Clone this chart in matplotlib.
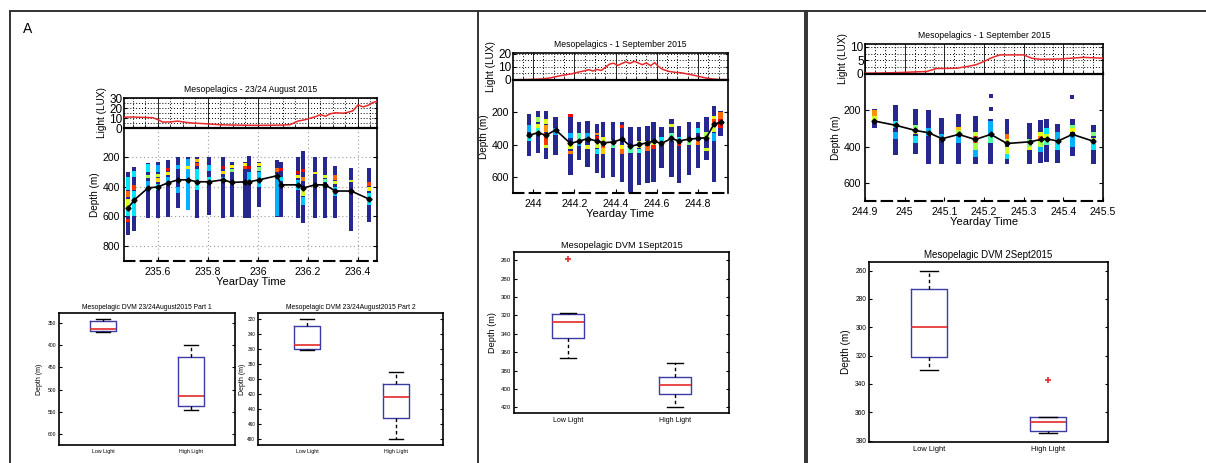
import numpy as np
import matplotlib
matplotlib.use("Agg")
import matplotlib.pyplot as plt
from matplotlib.lines import Line2D
from matplotlib.ticker import MultipleLocator

plt.rcParams['font.family'] = ['Liberation Sans', 'DejaVu Sans']

# ---------------- data ----------------
# Panel A: 23/24 August 2015
a_light_t = [235.465, 235.50, 235.54, 235.58, 235.60, 235.62, 235.65, 235.68, 235.71, 235.74,
             235.78, 235.82, 235.86, 235.90, 235.95, 236.00, 236.05, 236.10, 236.13, 236.16,
             236.19, 236.21, 236.23, 236.25, 236.27, 236.29, 236.31, 236.34, 236.36, 236.38,
             236.40, 236.42, 236.44, 236.46, 236.475]
a_light_lux = [11, 11.2, 10.8, 10.5, 8.5, 6.0, 6.2, 7.0, 5.8, 5.0,
               4.5, 3.8, 3.2, 3.0, 2.8, 2.7, 2.8, 3.0, 3.5, 7.0,
               8.5, 10.0, 11.5, 13.5, 12.0, 14.5, 15.5, 15.0, 16.0, 17.5,
               23.5, 21.5, 23.0, 26.0, 27.0]
a_col_t = [235.481, 235.505, 235.561, 235.601, 235.641, 235.681, 235.721, 235.757, 235.805,
           235.861, 235.897, 235.949, 235.965, 236.005, 236.077, 236.093, 236.161, 236.181,
           236.229, 236.269, 236.309, 236.373, 236.445]
a_col_top = [297, 262, 241, 234, 214, 200, 200, 200, 200, 200, 228, 234, 193, 228, 214, 234,
             200, 159, 200, 200, 255, 269, 269]
a_col_bot = [724, 697, 614, 614, 607, 545, 560, 614, 593, 614, 607, 614, 614, 538, 607, 607,
             614, 648, 614, 614, 614, 697, 641]
a_mean_depth = [545, 490, 407, 400, 372, 352, 352, 365, 365, 352, 370, 365, 365, 352, 324, 386,
                386, 407, 386, 386, 428, 428, 483]
a_spots = [
    [(330, 420, 0.35), (430, 470, 0.8), (480, 560, 0.62), (560, 600, 0.35), (615, 640, 0.88)],
    [(290, 330, 0.35), (390, 420, 0.85), (430, 600, 0.35)],
    [(245, 300, 0.35), (320, 340, 0.55), (360, 420, 0.3)],
    [(250, 300, 0.3), (310, 330, 0.6), (340, 365, 0.68), (380, 420, 0.35)],
    [(270, 295, 0.9), (300, 320, 0.65), (330, 380, 0.3)],
    [(250, 280, 0.3), (400, 440, 0.3)],
    [(210, 560, 0.3), (260, 280, 0.65)],
    [(210, 230, 0.7), (235, 260, 0.85), (280, 420, 0.35)],
    [(250, 290, 0.32), (330, 370, 0.35)],
    [(260, 280, 0.92), (290, 310, 0.68), (330, 360, 0.3)],
    [(250, 270, 0.65), (280, 300, 0.5)],
    [(240, 255, 0.65), (255, 275, 0.85)],
    [(260, 280, 0.92), (300, 360, 0.32)],
    [(235, 260, 0.65), (265, 290, 0.5), (300, 400, 0.32)],
    [(310, 600, 0.3), (270, 300, 0.8)],
    [(270, 295, 0.9), (330, 360, 0.35)],
    [(290, 315, 0.92), (320, 340, 0.65), (350, 420, 0.32)],
    [(280, 300, 0.9), (330, 360, 0.78), (400, 460, 0.6), (470, 520, 0.32)],
    [(300, 315, 0.65)],
    [(320, 340, 0.6), (345, 365, 0.45)],
    [(320, 350, 0.8), (360, 380, 0.62), (400, 460, 0.32)],
    [(350, 370, 0.6)],
    [(370, 395, 0.85), (400, 430, 0.65), (440, 520, 0.35)],
]

# Panel B: 1 September 2015
b_light_t = [243.90, 243.95, 244.00, 244.05, 244.09, 244.13, 244.16, 244.19, 244.22, 244.25,
             244.27, 244.29, 244.31, 244.33, 244.35, 244.37, 244.39, 244.41, 244.43, 244.45,
             244.47, 244.49, 244.51, 244.53, 244.55, 244.57, 244.59, 244.61, 244.63, 244.66,
             244.69, 244.72, 244.75, 244.78, 244.81, 244.84, 244.87, 244.90, 244.95]
b_light_lux = [0.2, 0.3, 0.5, 0.9, 1.8, 3.2, 4.0, 4.8, 6.0, 7.0,
               7.8, 6.8, 8.0, 7.2, 9.5, 12.0, 12.8, 11.0, 12.5, 13.8,
               12.6, 14.2, 13.0, 11.6, 13.0, 10.8, 13.2, 10.0, 8.0, 6.5,
               5.8, 5.5, 4.5, 3.6, 2.5, 1.5, 0.8, 0.4, 0.3]
b_col_t = [243.979, 244.024, 244.062, 244.109, 244.181, 244.223, 244.264, 244.310, 244.340,
           244.388, 244.432, 244.472, 244.514, 244.555, 244.585, 244.623, 244.671, 244.708,
           244.756, 244.800, 244.841, 244.878, 244.910]
b_col_top = [210, 189, 189, 230, 210, 262, 252, 273, 262, 262, 262, 294, 294, 283, 262, 294,
             241, 283, 262, 262, 230, 158, 189]
b_col_bot = [469, 451, 489, 463, 589, 494, 536, 577, 609, 598, 631, 694, 652, 641, 631, 545,
             598, 641, 589, 545, 494, 631, 347]
b_mean_depth = [343, 326, 343, 309, 393, 378, 364, 378, 389, 384, 366, 410, 399, 389, 378, 393,
                362, 378, 366, 362, 357, 273, 262]
b_spots = [
    [(280, 320, 0.3), (340, 380, 0.35)],
    [(230, 260, 0.55), (270, 300, 0.62), (300, 340, 0.4)],
    [(240, 270, 0.62), (280, 320, 0.75), (330, 400, 0.85), (400, 420, 0.6)],
    [(300, 340, 0.3)],
    [(210, 230, 0.9), (330, 360, 0.3), (400, 430, 0.62), (440, 460, 0.78)],
    [(330, 380, 0.45), (390, 410, 0.3)],
    [(330, 360, 0.3), (400, 430, 0.62)],
    [(330, 340, 0.75), (345, 365, 0.9), (380, 420, 0.6), (430, 460, 0.35)],
    [(350, 380, 0.62), (380, 420, 0.82), (420, 460, 0.7)],
    [(370, 420, 0.45)],
    [(280, 300, 0.88), (400, 430, 0.65), (430, 460, 0.8)],
    [(400, 450, 0.45)],
    [(380, 420, 0.6), (430, 450, 0.4)],
    [(380, 400, 0.62), (410, 440, 0.8)],
    [(380, 400, 0.62), (400, 430, 0.88)],
    [(350, 400, 0.35)],
    [(270, 290, 0.62), (330, 380, 0.45)],
    [(350, 380, 0.35), (390, 410, 0.88)],
    [(360, 400, 0.5)],
    [(300, 330, 0.35), (380, 400, 0.8)],
    [(320, 360, 0.55), (420, 440, 0.6)],
    [(220, 240, 0.62), (240, 280, 0.85), (290, 320, 0.6), (330, 380, 0.3)],
    [(200, 240, 0.8), (240, 300, 0.9)],
]

# Panel C: 2 September 2015
c_light_t = [244.90, 244.95, 245.00, 245.03, 245.055, 245.08, 245.13, 245.16, 245.18, 245.20,
             245.22, 245.24, 245.27, 245.30, 245.32, 245.34, 245.39, 245.45, 245.50]
c_light_lux = [0.3, 0.4, 0.6, 0.8, 0.9, 2.0, 2.1, 2.8, 3.4, 4.6,
               6.0, 7.0, 7.0, 7.0, 5.8, 5.4, 5.5, 6.1, 5.8]
c_col_t = [244.923, 244.978, 245.027, 245.061, 245.094, 245.136, 245.178, 245.217, 245.258,
           245.315, 245.343, 245.358, 245.386, 245.423, 245.475]
c_col_top = [194, 172, 191, 196, 241, 222, 231, 250, 250, 272, 255, 250, 278, 250, 283]
c_col_bot = [296, 444, 439, 494, 494, 494, 494, 494, 494, 494, 489, 485, 489, 454, 494]
c_mean_depth = [259, 283, 311, 324, 357, 333, 361, 333, 383, 374, 361, 357, 370, 333, 370]
c_spots = [
    [(200, 230, 0.75), (230, 260, 0.6)],
    [(260, 300, 0.35), (320, 360, 0.3)],
    [(280, 300, 0.5), (300, 330, 0.62), (340, 380, 0.35)],
    [(300, 340, 0.3)],
    [(330, 360, 0.3)],
    [(290, 310, 0.7), (310, 330, 0.55), (340, 380, 0.3)],
    [(320, 340, 0.6), (340, 380, 0.82), (380, 420, 0.55), (420, 460, 0.3)],
    [(260, 340, 0.3), (340, 380, 0.45)],
    [(330, 360, 0.8), (360, 390, 0.62), (400, 440, 0.6), (440, 470, 0.35)],
    [(360, 400, 0.5), (400, 420, 0.62)],
    [(320, 340, 0.62), (340, 370, 0.78), (370, 400, 0.55), (400, 430, 0.3)],
    [(300, 330, 0.35), (330, 360, 0.6), (360, 390, 0.45)],
    [(320, 360, 0.3), (360, 420, 0.35)],
    [(280, 300, 0.5), (300, 320, 0.65), (330, 400, 0.3)],
    [(320, 340, 0.5), (350, 380, 0.6), (380, 420, 0.35)],
]
c_dot_t = [245.217, 245.217, 245.423]
c_dot_depth = [120, 194, 126]

# Box plot summaries: [whisker low, q1, median, q3, whisker high]
box_a1_low = [341, 345, 363, 368, 370]
box_a1_high = [400, 427, 514, 538, 545]
box_a2_low = [320, 329, 355, 360, 361]
box_a2_high = [391, 407, 424, 452, 480]
box_b_low = [317, 318, 327, 345, 366]
box_b_low_out = [259]
box_b_high = [372, 387, 396, 405, 419]
box_c_low = [260, 273, 300, 321, 330]
box_c_high = [363.5, 363.5, 367, 373, 374.5]
box_c_high_out = [337.5]
box_labels = ['Low Light', 'High Light']

# ---------------- layout ----------------
W, H = 1206, 463
fig = plt.figure(figsize=(W / 100, H / 100), dpi=100)


def rect(x0, y0, x1, y1):
    return [x0 / W, 1 - y1 / H, (x1 - x0) / W, (y1 - y0) / H]


cmap = plt.get_cmap('jet')
BASE_COLOR = '#26278f'


def profile(lrect, drect, title, light_t, lux, lylim, lmajor, lticks,
            col_t, top, bot, spots, mean_d, width, xlim, xticks, xticklabels,
            dylim, yticks, xlabel, grid=False, xminor=0.05, extra=None):
    axl = fig.add_axes(rect(*lrect))
    axd = fig.add_axes(rect(*drect), sharex=axl)

    # light panel
    axl.plot(light_t, lux, color='#e8282a', lw=1.1, zorder=3)
    axl.set_ylim(*lylim)
    axl.set_yticks(lticks)
    axl.yaxis.set_minor_locator(MultipleLocator(lmajor / 2))
    axl.xaxis.set_minor_locator(MultipleLocator(xminor))
    axl.grid(True, which='minor', color='k', ls=(0, (1, 2)), lw=0.7)
    axl.grid(True, which='major', axis='y', color='k', ls=(0, (1, 2)), lw=0.7)
    axl.grid(True, which='major', axis='x', color='k', ls='-', lw=0.6)
    axl.tick_params(axis='x', labelbottom=False, direction='in', length=2, which='both')
    axl.tick_params(axis='y', direction='in', right=True, length=2, labelsize=8.5, pad=1,
                    which='both')
    axl.tick_params(axis='y', which='minor', length=0)
    axl.set_ylabel('Light (LUX)', fontsize=7.2, labelpad=2)
    axl.set_title(title, fontsize=6.2, pad=4)
    for s in axl.spines.values():
        s.set_linewidth(1.2)

    # depth panel: echo columns
    for x, t, b, sp in zip(col_t, top, bot, spots):
        axd.bar(x, b - t, bottom=t, width=width, color=BASE_COLOR, lw=0, zorder=2)
        for d0, d1, lev in sp:
            axd.bar(x, d1 - d0, bottom=d0, width=width, color=cmap(lev), lw=0, zorder=2)
    if extra is not None:
        axd.scatter(extra[0], extra[1], marker='s', s=8, color=BASE_COLOR, lw=0, zorder=2)
    axd.plot(col_t, mean_d, color='k', lw=1.2, marker='D', ms=2.6, zorder=4)
    axd.set_xlim(*xlim)
    axd.set_ylim(*dylim)
    axd.set_yticks(yticks)
    axd.set_xticks(xticks)
    axd.set_xticklabels(xticklabels)
    axd.tick_params(direction='in', right=True, length=3, labelsize=7.6, pad=3)
    axd.tick_params(axis='x', pad=4)
    axd.tick_params(axis='x', which='minor', length=0)
    axd.set_ylabel('Depth (m)', fontsize=7.2, labelpad=2)
    axd.set_xlabel(xlabel, fontsize=8, labelpad=0)
    if grid:
        axd.grid(True, which='major', color='#9a9a9a', ls=(0, (1, 2.5)), lw=0.8)
        axd.set_axisbelow(True)
    for s in axd.spines.values():
        s.set_linewidth(1.2)
    axd.spines['bottom'].set_linestyle((0, (5, 3)))
    axd.spines['bottom'].set_linewidth(1.5)
    axd.spines['top'].set_linewidth(1.6)
    return axl, axd


profile((124, 98, 377, 128), (124, 128, 377, 261), 'Mesopelagics - 23/24 August 2015',
        a_light_t, a_light_lux, (0, 30.5), 10, [0, 10, 20, 30],
        a_col_t, a_col_top, a_col_bot, a_spots, a_mean_depth, 0.018,
        (235.465, 236.476), [235.6, 235.8, 236.0, 236.2, 236.4],
        ['235.6', '235.8', '236', '236.2', '236.4'],
        (903, 0), [200, 400, 600, 800], 'YearDay Time', grid=True, xminor=0.05)

profile((513, 53, 728, 80), (513, 80, 728, 193), 'Mesopelagics - 1 September 2015',
        b_light_t, b_light_lux, (0, 20.5), 10, [0, 10, 20],
        b_col_t, b_col_top, b_col_bot, b_spots, b_mean_depth, 0.022,
        (243.902, 244.946), [244.0, 244.2, 244.4, 244.6, 244.8],
        ['244', '244.2', '244.4', '244.6', '244.8'],
        (700, 0), [200, 400, 600], 'Yearday Time', xminor=0.05)

profile((865, 44, 1103, 74), (865, 74, 1103, 201), 'Mesopelagics - 1 September 2015',
        c_light_t, c_light_lux, (0, 11), 5, [0, 5, 10],
        c_col_t, c_col_top, c_col_bot, c_spots, c_mean_depth, 0.0125,
        (244.9, 245.5), [244.9, 245.0, 245.1, 245.2, 245.3, 245.4, 245.5],
        ['244.9', '245', '245.1', '245.2', '245.3', '245.4', '245.5'],
        (700, 0), [200, 400, 600], 'Yearday Time', xminor=0.025,
        extra=(c_dot_t, c_dot_depth))


def boxpanel(r, low, high, low_out, high_out, ylim, yticks, title, fs_title, fs_tick,
             fs_xt, fs_lab, xlim=(0.5, 2.5), lpad=3):
    ax = fig.add_axes(rect(*r))
    stats = []
    for vals, fl, lab in ((low, low_out, box_labels[0]), (high, high_out, box_labels[1])):
        stats.append(dict(whislo=vals[0], q1=vals[1], med=vals[2], q3=vals[3],
                          whishi=vals[4], fliers=fl, label=lab))
    ax.bxp(stats, positions=[1, 2], widths=0.3, capwidths=0.15, showfliers=True,
           boxprops=dict(color='#3c3ca8', lw=1.0),
           medianprops=dict(color='#e42a2a', lw=1.2),
           whiskerprops=dict(color='k', ls=(0, (2.5, 2)), lw=1.0),
           capprops=dict(color='k', lw=1.0),
           flierprops=dict(marker='+', markeredgecolor='#e42a2a', markersize=4,
                           markeredgewidth=1.2))
    ax.set_xlim(*xlim)
    ax.set_ylim(*ylim)
    ax.set_yticks(yticks)
    ax.tick_params(axis='y', direction='in', right=True, length=2.5, labelsize=fs_tick, pad=2)
    ax.tick_params(axis='x', length=0, labelsize=fs_xt, pad=3)
    ax.set_ylabel('Depth (m)', fontsize=fs_lab, labelpad=lpad)
    ax.set_title(title, fontsize=fs_title, pad=3)
    for s in ax.spines.values():
        s.set_linewidth(1.2)
    return ax


boxpanel((59, 313, 235, 445), box_a1_low, box_a1_high, [], [], (625, 327),
         [350, 400, 450, 500, 550, 600], 'Mesopelagic DVM 23/24August2015 Part 1',
         4.9, 3.6, 3.8, 5.0)
boxpanel((258, 313, 443, 445), box_a2_low, box_a2_high, [], [], (488, 312),
         [320, 340, 360, 380, 400, 420, 440, 460, 480], 'Mesopelagic DVM 23/24August2015 Part 2',
         4.9, 3.4, 3.8, 5.0, xlim=(0.45, 2.53), lpad=1)
boxpanel((514, 252, 729, 413), box_b_low, box_b_high, box_b_low_out, [], (426, 251),
         [260, 280, 300, 320, 340, 360, 380, 400, 420], 'Mesopelagic DVM 1Sept2015',
         6.6, 4.4, 5.0, 6.6)
boxpanel((869, 262, 1108, 442), box_c_low, box_c_high, [], box_c_high_out, (381, 254),
         [260, 280, 300, 320, 340, 360, 380], 'Mesopelagic DVM 2Sept2015',
         7.0, 4.8, 5.4, 7.2)

# panel frames
frame_kw = dict(color='#333333', lw=1.4, transform=fig.transFigure)
fig.add_artist(Line2D([10 / W, 1], [1 - 11 / H, 1 - 11 / H], **frame_kw))
for xv in (10, 477.5, 804.5):
    fig.add_artist(Line2D([xv / W, xv / W], [1 - 11 / H, 0], **frame_kw))
fig.add_artist(Line2D([806.5 / W, 806.5 / W], [1 - 11 / H, 0], **frame_kw))
fig.text(23 / W, 1 - 29 / H, 'A', fontsize=10, va='center', ha='left')

fig.savefig('out.png', dpi=100)
